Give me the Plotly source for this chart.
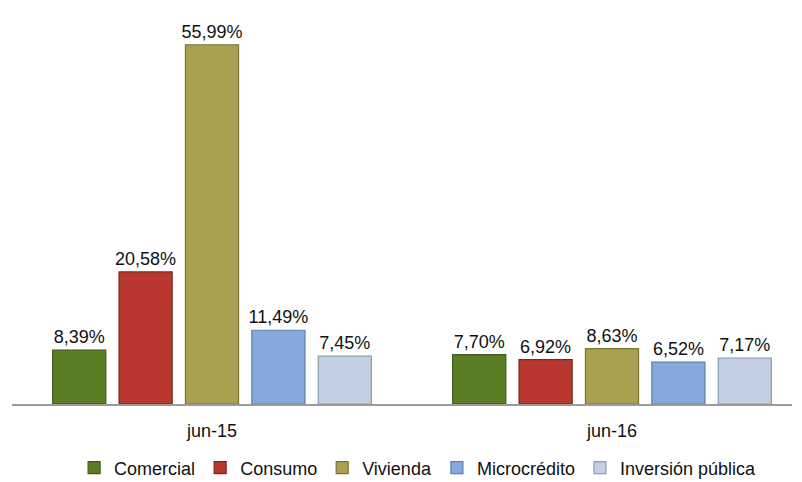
import plotly.graph_objects as go

categories = ["jun-15", "jun-16"]
series_names = ["Comercial", "Consumo", "Vivienda", "Microcrédito", "Inversión pública"]
comercial = [8.39, 7.70]
consumo = [20.58, 6.92]
vivienda = [55.99, 8.63]
microcredito = [11.49, 6.52]
inversion = [7.45, 7.17]

values = [comercial, consumo, vivienda, microcredito, inversion]
colors = ["#5b7d26", "#b8382f", "#a9a150", "#85a9da", "#c3cfe2"]
lines = ["#3f5a18", "#7e2420", "#7b7535", "#5a7fb0", "#8d9ab0"]

fig = go.Figure()
for name, vals, c, lc in zip(series_names, values, colors, lines):
    fig.add_trace(go.Bar(
        name=name, x=categories, y=vals,
        marker=dict(color=c, line=dict(color=lc, width=1.2)),
        text=[f"{v:.2f}".replace(".", ",") + "%" for v in vals],
        textposition="outside", cliponaxis=False, constraintext="none",
        textfont=dict(family="Liberation Sans, Arial", size=18, color="#111111"),
    ))

fig.update_layout(
    width=802, height=482,
    margin=dict(l=12, r=10, t=19, b=78, autoexpand=False),
    paper_bgcolor="white", plot_bgcolor="white",
    barmode="group", bargap=0.17, bargroupgap=0.2,
    font=dict(family="Liberation Sans, Arial", size=18, color="#111111"),
    xaxis=dict(range=[-0.5, 1.45], showline=True, linecolor="#9a9a9a", linewidth=1.5,
               ticks="", tickfont=dict(size=18), showgrid=False, ticklabelstandoff=10),
    yaxis=dict(range=[0, 60], visible=False, showgrid=False),
    legend=dict(orientation="h", x=0.52, xanchor="center", y=0.029, yanchor="middle",
                yref="container", font=dict(size=18), itemwidth=30, tracegroupgap=0),
    showlegend=True,
)

fig.write_html("out.html")
